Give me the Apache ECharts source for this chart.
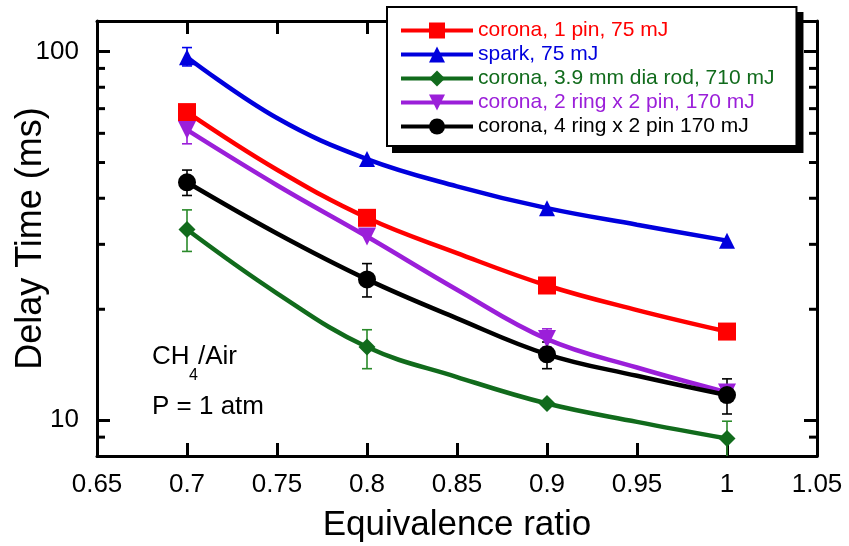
<!DOCTYPE html>
<html>
<head>
<meta charset="utf-8">
<script src="https://cdn.jsdelivr.net/npm/echarts@6/dist/echarts.min.js"></script>
<style>html,body{margin:0;padding:0;background:#fff}#c{width:849px;height:546px}</style>
</head>
<body>
<div id="c"></div>
<script>
// ---- data ----
const markerPhi = [0.7, 0.8, 0.9, 1.0];
const curvePhi = [0.7, 0.75, 0.8, 0.85, 0.9, 0.95, 1.0];

const seriesNames = [
  'corona, 1 pin, 75 mJ',
  'spark, 75 mJ',
  'corona, 3.9 mm dia rod, 710 mJ',
  'corona, 2 ring x 2 pin, 170 mJ',
  'corona, 4 ring x 2 pin 170 mJ'
];
// delay time (ms) at the markers
const corona1pin = [68.5, 35.4, 23.2, 17.4];
const spark = [96.5, 51.1, 37.6, 30.7];
const coronaRod = [32.9, 15.8, 11.1, 8.92];
const corona2ring = [61.3, 31.5, 16.6, 11.9];
const corona4ring = [44.2, 24.1, 15.1, 11.7];
// delay time (ms) along the drawn curves
const corona1pinCurve = [68.5, 47.8, 35.4, 28.4, 23.2, 19.9, 17.4];
const sparkCurve = [96.5, 66.0, 51.1, 43.1, 37.6, 33.9, 30.7];
const coronaRodCurve = [32.9, 22.1, 15.8, 13.1, 11.1, 9.9, 8.92];
const corona2ringCurve = [61.3, 43.4, 31.5, 22.6, 16.6, 13.9, 11.9];
const corona4ringCurve = [44.2, 32.1, 24.1, 18.9, 15.1, 13.2, 11.7];
// error bars: [phi, low, high]
const sparkErr = [[0.7, 91.4, 102.5]];
const coronaRodErr = [[0.7, 28.7, 37.2], [0.8, 13.8, 17.6], [1.0, 7.9, 9.94]];
const corona2ringErr = [[0.7, 56.2, 66.0], [0.9, 15.8, 17.7]];
const corona4ringErr = [[0.7, 40.7, 47.7], [0.8, 21.6, 26.6], [0.9, 13.8, 16.3], [1.0, 10.4, 12.95]];

// axes
const xMin = 0.65, xMax = 1.05, xInterval = 0.05;
const yMin = 8, yMax = 121;
const yLabels = [10, 100];
const yMinorTicks = [9, 20, 30, 40, 50, 60, 70, 80, 90];

// ---- styles ----
const FONT = "'Liberation Sans', Arial, Helvetica, sans-serif";
const colors = ['#ff0000', '#0000dd', '#116b1c', '#9b1fd9', '#000000'];
const errColors = ['#ff0000', '#0000ee', '#2a8a2a', '#9b1fd9', '#000000'];
const symbols = ['rect', 'triangle', 'diamond', 'triangle', 'circle'];
const symbolSizes = [18, 16, 17, 18, 18];
const rotates = [0, 0, 0, 180, 0];

const markerSets = [corona1pin, spark, coronaRod, corona2ring, corona4ring];
const curveSets = [corona1pinCurve, sparkCurve, coronaRodCurve, corona2ringCurve, corona4ringCurve];
const errSets = [[], sparkErr, coronaRodErr, corona2ringErr, corona4ringErr];

function buildLineData(curve, markers) {
  return curvePhi.map((x, i) => {
    const mi = markerPhi.findIndex(p => Math.abs(p - x) < 1e-9);
    if (mi >= 0) return { value: [x, markers[mi]] };
    return { value: [x, curve[i]], symbol: 'none' };
  });
}

const series = [];
seriesNames.forEach((name, k) => {
  series.push({
    name: name,
    type: 'line',
    xAxisIndex: 0, yAxisIndex: 0,
    data: buildLineData(curveSets[k], markerSets[k]),
    smooth: 0.4,
    symbol: symbols[k],
    symbolSize: symbolSizes[k],
    symbolRotate: rotates[k],
    showSymbol: true,
    showAllSymbol: true,
    lineStyle: { color: colors[k], width: 4.5 },
    itemStyle: { color: colors[k] },
    z: 3,
    animation: false
  });
});

// error bars
seriesNames.forEach((name, k) => {
  if (!errSets[k].length) return;
  series.push({
    type: 'custom',
    xAxisIndex: 0, yAxisIndex: 0,
    data: errSets[k],
    encode: { x: 0, y: [1, 2] },
    clip: true,
    z: 2,
    silent: true,
    animation: false,
    renderItem: function (params, api) {
      const x = api.value(0);
      const lo = api.coord([x, api.value(1)]);
      const hi = api.coord([x, api.value(2)]);
      const hw = 5;
      const st = { stroke: errColors[k], lineWidth: 1.6, fill: null };
      return {
        type: 'group',
        children: [
          { type: 'line', shape: { x1: lo[0], y1: lo[1], x2: hi[0], y2: hi[1] }, style: st },
          { type: 'line', shape: { x1: lo[0] - hw, y1: lo[1], x2: lo[0] + hw, y2: lo[1] }, style: st },
          { type: 'line', shape: { x1: hi[0] - hw, y1: hi[1], x2: hi[0] + hw, y2: hi[1] }, style: st }
        ]
      };
    }
  });
});

// minor ticks on left and right frame (log positions via the axis)
series.push({
  type: 'custom',
  xAxisIndex: 0, yAxisIndex: 0,
  data: yMinorTicks.map(v => [xMin, v]),
  encode: { x: 0, y: 1 },
  clip: false,
  silent: true,
  z: 5,
  animation: false,
  renderItem: function (params, api) {
    const v = api.value(1);
    const l = api.coord([xMin, v]);
    const r = api.coord([xMax, v]);
    const st = { stroke: '#000', lineWidth: 3 };
    return {
      type: 'group',
      children: [
        { type: 'line', shape: { x1: l[0], y1: l[1], x2: l[0] + 8, y2: l[1] }, style: st },
        { type: 'line', shape: { x1: r[0] - 8, y1: r[1], x2: r[0], y2: r[1] }, style: st }
      ]
    };
  }
});

const axisLine = { show: true, onZero: false, lineStyle: { color: '#000', width: 3 } };
const majorTick = { show: true, inside: true, length: 13, lineStyle: { color: '#000', width: 3 } };

const option = {
  backgroundColor: '#ffffff',
  animation: false,
  grid: { left: 97, right: 32, top: 21, bottom: 90, containLabel: false, outerBoundsMode: 'none' },
  xAxis: [
    {
      type: 'value', position: 'bottom',
      min: xMin, max: xMax, interval: xInterval,
      name: 'Equivalence ratio', nameLocation: 'middle', nameGap: 52, nameMoveOverlap: false,
      nameTextStyle: { fontFamily: FONT, fontSize: 35, color: '#000' },
      axisLine: axisLine, axisTick: majorTick,
      axisLabel: { fontFamily: FONT, fontSize: 26, color: '#000', margin: 16,
        formatter: v => String(Math.round(v * 100) / 100) },
      splitLine: { show: false }
    },
    {
      type: 'value', position: 'top',
      min: xMin, max: xMax, interval: xInterval,
      axisLine: axisLine, axisTick: majorTick,
      axisLabel: { show: false }, splitLine: { show: false }
    }
  ],
  yAxis: [
    {
      type: 'log', logBase: 10, position: 'left',
      min: yMin, max: yMax,
      name: 'Delay Time (ms)', nameLocation: 'middle', nameGap: 48, nameRotate: 90, nameMoveOverlap: false,
      nameTextStyle: { fontFamily: FONT, fontSize: 36, color: '#000' },
      axisLine: axisLine, axisTick: majorTick,
      axisLabel: {
        fontFamily: FONT, fontSize: 26, color: '#000', margin: 18,
        showMinLabel: true, showMaxLabel: true,
        formatter: function (v) {
          for (const t of yLabels) if (Math.abs(v - t) / t < 1e-6) return String(t);
          return '';
        }
      },
      splitLine: { show: false }, minorTick: { show: false }
    },
    {
      type: 'log', logBase: 10, position: 'right',
      min: yMin, max: yMax,
      axisLine: axisLine, axisTick: majorTick,
      axisLabel: { show: false }, splitLine: { show: false }
    }
  ],
  legend: {
    orient: 'vertical',
    left: 387, top: 7,
    padding: [13, 22, 9, 12],
    itemWidth: 72, itemHeight: 20, itemGap: 3,
    backgroundColor: '#ffffff',
    borderColor: '#000', borderWidth: 2,
    z: 6,
    lineStyle: { width: 4 },
    textStyle: { fontFamily: FONT, fontSize: 21, lineHeight: 20 },
    selectedMode: false,
    data: seriesNames.map((n, k) => ({ name: n, textStyle: { color: colors[k] } }))
  },
  graphic: [
    { type: 'text', x: 152, y: 356.5, z: 10,
      style: { text: 'CH', fontFamily: FONT, fontSize: 26, fill: '#000', verticalAlign: 'middle', align: 'left' } },
    { type: 'text', x: 189, y: 375.5, z: 10,
      style: { text: '4', fontFamily: FONT, fontSize: 16, fill: '#000', verticalAlign: 'middle', align: 'left' } },
    { type: 'text', x: 198, y: 356.5, z: 10,
      style: { text: '/Air', fontFamily: FONT, fontSize: 26, fill: '#000', verticalAlign: 'middle', align: 'left' } },
    { type: 'text', x: 152, y: 407, z: 10,
      style: { text: 'P = 1 atm', fontFamily: FONT, fontSize: 26, fill: '#000', verticalAlign: 'middle', align: 'left' } }
  ],
  series: series
};

const chart = echarts.init(document.getElementById('c'), null, { renderer: 'canvas', width: 849, height: 546 });
chart.setOption(option);

// solid drop shadow behind the legend box, sized from the rendered legend
let lx = 387, ly = 7, lw = 410, lh = 138;
try {
  const lm = chart.getModel().getComponent('legend');
  const view = chart.getViewOfComponentModel(lm);
  const g = view.group;
  const r = g.getBoundingRect();
  lx = r.x + g.x; ly = r.y + g.y; lw = r.width; lh = r.height;
} catch (e) {}
chart.setOption({
  graphic: [
    { type: 'rect', id: 'legendShadow', z: 5, zlevel: 0,
      shape: { x: lx + 6, y: ly + 6, width: lw, height: lh },
      style: { fill: '#000' }, silent: true }
  ]
});
</script>
</body>
</html>
